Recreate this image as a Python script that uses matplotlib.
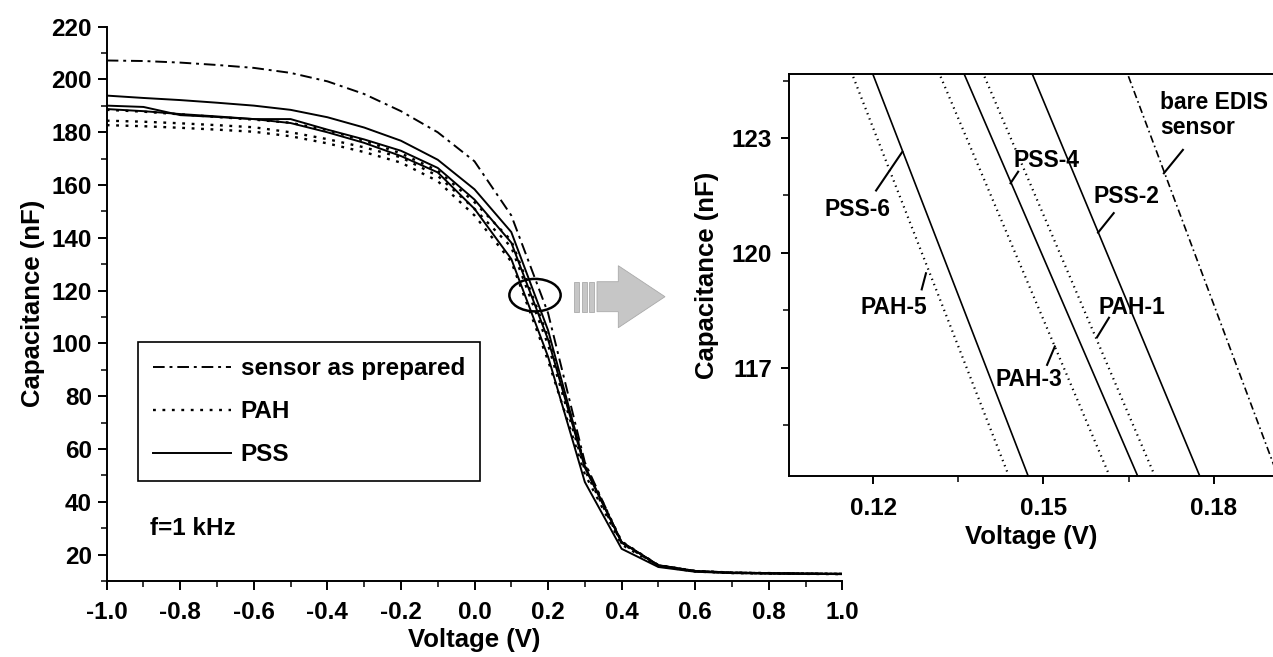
import matplotlib
matplotlib.use("Agg")
import matplotlib.pyplot as plt
from matplotlib.patches import Ellipse, Polygon
from matplotlib.ticker import MultipleLocator, FixedLocator

plt.rcParams['font.family'] = ['Liberation Sans', 'DejaVu Sans']
plt.rcParams['font.weight'] = 'bold'

# ---------------- data: main panel ----------------
voltage = [-1.0, -0.9, -0.8, -0.7, -0.6, -0.5, -0.4, -0.3, -0.2, -0.1,
           0.0, 0.1, 0.2, 0.3, 0.4, 0.5, 0.6, 0.7, 0.8, 0.9, 1.0]
cap_bare = [207.2, 207.0, 206.4, 205.5, 204.4, 202.5, 199.3, 194.5, 188.0, 180.0,
            169.0, 148.5, 111.5, 55.0, 24.5, 16.0, 13.8, 13.2, 13.0, 12.8, 12.7]
cap_pss2 = [193.9, 193.0, 192.2, 191.2, 190.1, 188.5, 185.7, 181.8, 176.8, 169.6,
            158.4, 142.2, 105.0, 53.5, 24.8, 16.0, 13.8, 13.2, 13.0, 12.8, 12.7]
cap_pss4 = [190.1, 189.6, 186.5, 185.8, 185.0, 185.0, 181.0, 177.3, 173.0, 166.5,
            154.5, 138.2, 101.5, 53.0, 24.7, 15.9, 13.7, 13.1, 12.9, 12.8, 12.7]
cap_pss6 = [188.8, 188.0, 186.9, 186.0, 185.0, 183.5, 180.0, 176.0, 171.0, 164.8,
            151.0, 132.0, 95.0, 47.5, 22.2, 15.3, 13.5, 13.0, 12.8, 12.7, 12.6]
cap_pah1 = [188.5, 187.8, 186.8, 185.8, 184.8, 183.6, 180.8, 176.8, 172.0, 165.5,
            153.5, 139.0, 102.5, 54.0, 25.0, 16.0, 13.8, 13.2, 13.0, 12.8, 12.7]
cap_pah3 = [184.4, 184.0, 183.4, 182.7, 181.9, 180.0, 177.4, 174.3, 170.5, 163.5,
            151.0, 136.5, 99.5, 52.0, 24.3, 15.8, 13.7, 13.1, 12.9, 12.8, 12.7]
cap_pah5 = [182.7, 182.3, 181.7, 181.0, 180.2, 178.5, 175.8, 172.5, 168.5, 161.5,
            148.5, 131.0, 93.5, 50.5, 23.8, 15.6, 13.6, 13.0, 12.8, 12.7, 12.6]
legend_labels = ["sensor as prepared", "PAH", "PSS"]

# ---------------- data: zoomed panel ----------------
zoom_cap = [125.0, 114.0]
zoom_pah5 = [0.11544, 0.14437]
zoom_pss6 = [0.11909, 0.14777]
zoom_pah3 = [0.13075, 0.16215]
zoom_pss4 = [0.13507, 0.16710]
zoom_pah1 = [0.13847, 0.17012]
zoom_pss2 = [0.14710, 0.17801]
zoom_bare = [0.16397, 0.19171]
zoom_names = ["PAH-5", "PSS-6", "PAH-3", "PSS-4", "PAH-1", "PSS-2", "bare EDIS\nsensor"]

W, H = 1273, 657
fig = plt.figure(figsize=(W / 100, H / 100), dpi=100)

def fx(x):
    return x / W

def fy(y):
    return 1 - y / H

# main axes
ax = fig.add_axes([fx(106.7), fy(581), fx(842.3) - fx(106.7), fy(26.7) - fy(581)])
DD = (6, 2.5, 1.5, 2.5)
DOT = (1.2, 2.8)
lw = 1.4
ax.plot(voltage, cap_bare, color='black', lw=lw, dashes=DD, label=legend_labels[0])
ax.plot(voltage, cap_pah1, color='black', lw=lw + 0.3, dashes=DOT, label=legend_labels[1])
ax.plot(voltage, cap_pah3, color='black', lw=lw + 0.3, dashes=DOT)
ax.plot(voltage, cap_pah5, color='black', lw=lw + 0.3, dashes=DOT)
ax.plot(voltage, cap_pss2, color='black', lw=lw, label=legend_labels[2])
ax.plot(voltage, cap_pss4, color='black', lw=lw)
ax.plot(voltage, cap_pss6, color='black', lw=lw)

ax.set_xlim(-1.0, 1.0)
ax.set_ylim(10, 220)
ax.xaxis.set_major_locator(MultipleLocator(0.2))
ax.xaxis.set_minor_locator(MultipleLocator(0.1))
ax.yaxis.set_major_locator(FixedLocator([20, 40, 60, 80, 100, 120, 140, 160, 180, 200, 220]))
ax.yaxis.set_minor_locator(MultipleLocator(10))
ax.set_xticklabels([f"{v:.1f}" for v in ax.get_xticks()])
for s in ['top', 'right']:
    ax.spines[s].set_visible(False)
for s in ['left', 'bottom']:
    ax.spines[s].set_linewidth(1.4)
ax.tick_params(which='major', direction='out', length=6.5, width=1.4, labelsize=17.5, pad=8)
ax.tick_params(which='minor', direction='out', length=4, width=1.1)
ax.tick_params(axis='y', which='major', pad=4)
ax.set_xlabel("Voltage (V)", fontsize=18.5, fontweight='bold', labelpad=3)
ax.set_ylabel("Capacitance (nF)", fontsize=18.5, fontweight='bold', labelpad=5)

leg = ax.legend(loc='upper left', bbox_to_anchor=(0.0426, 0.431), fontsize=17.5,
                handlelength=3.2, handletextpad=0.4, labelspacing=0.82,
                borderpad=0.62, borderaxespad=0, frameon=True, fancybox=False,
                framealpha=1)
leg.get_frame().set_edgecolor('black')
leg.get_frame().set_linewidth(1.2)
for t in leg.get_texts():
    t.set_fontweight('bold')

ax.text(-0.882, 29.8, "f=1 kHz", fontsize=17.5, fontweight='bold', ha='left', va='center')
ax.add_patch(Ellipse((0.1645, 118.3), 0.1395, 12.3, fill=False, edgecolor='black', lw=1.8))

# gray block arrow (figure pixels)
gray = '#c6c6c6'
edge = '#aaaaaa'
for x0, x1 in [(574, 579), (581.5, 586.5), (589, 594)]:
    fig.patches.append(Polygon([(fx(x0), fy(281.7)), (fx(x1), fy(281.7)), (fx(x1), fy(311.7)), (fx(x0), fy(311.7))],
                               closed=True, transform=fig.transFigure, facecolor=gray, edgecolor=edge, lw=0.6))
arrow_pts = [(597, 281.7), (618.3, 281.7), (618.3, 265.7), (665, 296.7), (618.3, 327.7), (618.3, 311.7), (597, 311.7)]
fig.patches.append(Polygon([(fx(a), fy(b)) for a, b in arrow_pts], closed=True, transform=fig.transFigure,
                           facecolor=gray, edgecolor=edge, lw=0.6))

# zoomed axes
ax2 = fig.add_axes([fx(789), fy(476), 1.0 - fx(789), fy(74) - fy(476)])
lw2 = 1.2
DOT2 = (0.6, 1.9)
ax2.plot(zoom_pah5, zoom_cap, color='black', lw=1.6, dashes=DOT2)
ax2.plot(zoom_pss6, zoom_cap, color='black', lw=lw2)
ax2.plot(zoom_pah3, zoom_cap, color='black', lw=1.6, dashes=DOT2)
ax2.plot(zoom_pss4, zoom_cap, color='black', lw=lw2)
ax2.plot(zoom_pah1, zoom_cap, color='black', lw=1.6, dashes=DOT2)
ax2.plot(zoom_pss2, zoom_cap, color='black', lw=lw2)
ax2.plot(zoom_bare, zoom_cap, color='black', lw=lw2, dashes=(4.5, 2, 1, 2))
ax2.set_xlim(0.1052, 0.1904)
ax2.set_ylim(114.18, 124.67)
ax2.xaxis.set_major_locator(FixedLocator([0.12, 0.15, 0.18]))
ax2.xaxis.set_minor_locator(FixedLocator([0.135, 0.165]))
ax2.yaxis.set_major_locator(FixedLocator([117, 120, 123]))
ax2.yaxis.set_minor_locator(FixedLocator([115.5, 118.5, 121.5, 124.5]))
ax2.set_xticklabels(["0.12", "0.15", "0.18"])
ax2.spines['right'].set_visible(False)
for s in ['left', 'bottom', 'top']:
    ax2.spines[s].set_linewidth(1.4)
ax2.tick_params(which='major', direction='out', length=6, width=1.4, labelsize=17.5, pad=9)
ax2.tick_params(which='minor', direction='out', length=4, width=1.1)
ax2.tick_params(axis='y', which='major', pad=6)
ax2.set_xlabel("Voltage (V)", fontsize=18.5, fontweight='bold', labelpad=4)
ax2.set_ylabel("Capacitance (nF)", fontsize=18.5, fontweight='bold', labelpad=9)

# annotations: text position and leader line
annots = [
    (zoom_names[0], (0.12369, 118.57), 'center', ((0.12856, 119.05), (0.12931, 119.47))),
    (zoom_names[1], (0.11724, 121.14), 'center', ((0.12053, 121.63), (0.12515, 122.64))),
    (zoom_names[2], (0.14750, 116.70), 'center', ((0.15063, 117.08), (0.15199, 117.56))),
    (zoom_names[3], (0.15053, 122.40), 'center', ((0.14554, 122.12), (0.14420, 121.82))),
    (zoom_names[4], (0.16547, 118.57), 'center', ((0.16153, 118.31), (0.15942, 117.80))),
    (zoom_names[5], (0.16459, 121.47), 'center', ((0.16236, 121.04), (0.15960, 120.53))),
    (zoom_names[6], (0.17056, 123.60), 'left', ((0.17454, 122.69), (0.17119, 122.08))),
]
for name, (tx, ty), ha, (p0, p1) in annots:
    ax2.text(tx, ty, name, fontsize=16.5, fontweight='bold', ha=ha, va='center', linespacing=1.12)
    ax2.plot([p0[0], p1[0]], [p0[1], p1[1]], color='black', lw=1.5)

fig.savefig("out.png", dpi=100)
